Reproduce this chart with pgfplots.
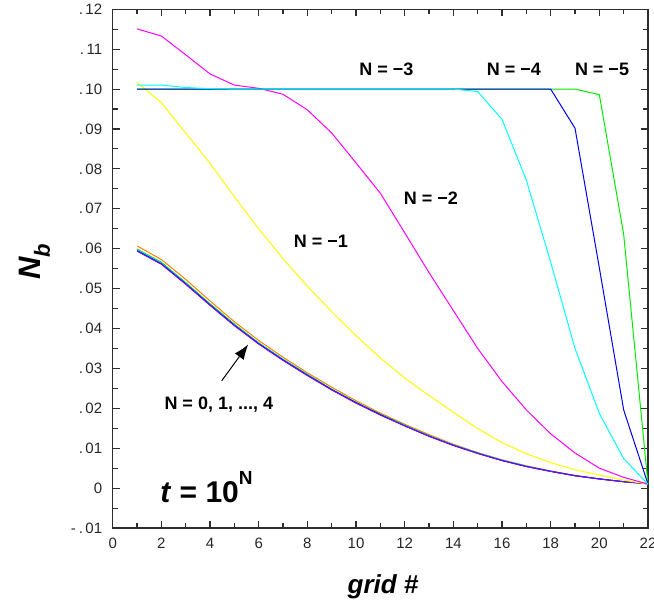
\documentclass[border=0pt]{standalone}
\usepackage{pgfplots}
\pgfplotsset{compat=1.18}
\usepackage{pgfplotstable}
\usepackage{fontspec}
\setmainfont{Liberation Sans}
\usetikzlibrary{arrows.meta}

\definecolor{frame}{RGB}{45,45,45}
\definecolor{cOrange}{RGB}{255,128,0}
\definecolor{cGreen}{RGB}{0,220,0}
\definecolor{cCyan}{RGB}{0,230,230}
\definecolor{cBlue}{RGB}{0,0,235}
\definecolor{cPurple}{RGB}{130,0,255}
\definecolor{cYellow}{RGB}{255,255,0}
\definecolor{cMagenta}{RGB}{255,0,255}
\definecolor{cCyanHi}{RGB}{0,255,255}
\definecolor{cBlueHi}{RGB}{0,0,230}
\definecolor{cGreenHi}{RGB}{0,235,0}

% N = 0 ... 4 (nearly identical profiles)
\pgfplotstableread{
x  orng   grn    cyn    blu    pur
1  0.0607 0.0599 0.0597 0.0595 0.0594
2  0.0573 0.0566 0.0564 0.0562 0.0561
3  0.0523 0.0515 0.0513 0.0512 0.0511
4  0.0469 0.0462 0.0460 0.0459 0.0458
5  0.0417 0.0411 0.0409 0.0408 0.0407
6  0.0370 0.0364 0.0363 0.0362 0.0361
7  0.0328 0.0323 0.0322 0.0321 0.0320
8  0.0289 0.0285 0.0284 0.0283 0.0282
9  0.0253 0.0248 0.0247 0.0247 0.0246
10 0.0219 0.0215 0.0214 0.0214 0.0213
11 0.0188 0.0185 0.0184 0.0184 0.0183
12 0.0160 0.0158 0.0157 0.0156 0.0156
13 0.0134 0.0131 0.0131 0.0130 0.0130
14 0.0110 0.0108 0.0108 0.0107 0.0107
15 0.0089 0.0088 0.0088 0.0087 0.0087
16 0.0071 0.0070 0.0070 0.0069 0.0069
17 0.0056 0.0055 0.0055 0.0054 0.0054
18 0.0043 0.0042 0.0042 0.0042 0.0042
19 0.0032 0.0031 0.0031 0.0031 0.0031
20 0.0023 0.0023 0.0023 0.0023 0.0023
21 0.0016 0.0016 0.0016 0.0016 0.0016
22 0.0011 0.0011 0.0011 0.0011 0.0011
}\lowgroup

% N = -1 ... -5
\pgfplotstableread{
x  m1     m2     m3     m4     m5
1  0.1017 0.1151 0.1010 0.1000 0.1000
2  0.0966 0.1133 0.1010 0.1000 0.1000
3  0.0890 0.1086 0.1004 0.1000 0.1000
4  0.0814 0.1038 0.1001 0.1000 0.1000
5  0.0730 0.1010 0.1000 0.1000 0.1000
6  0.0650 0.1002 0.1000 0.1000 0.1000
7  0.0575 0.0987 0.1000 0.1000 0.1000
8  0.0506 0.0948 0.1000 0.1000 0.1000
9  0.0442 0.0890 0.1000 0.1000 0.1000
10 0.0382 0.0815 0.1000 0.1000 0.1000
11 0.0326 0.0739 0.1000 0.1000 0.1000
12 0.0276 0.0640 0.1000 0.1000 0.1000
13 0.0232 0.0540 0.1000 0.1000 0.1000
14 0.0190 0.0445 0.1000 0.1000 0.1000
15 0.0149 0.0350 0.0994 0.1000 0.1000
16 0.0114 0.0267 0.0924 0.1000 0.1000
17 0.0086 0.0196 0.0772 0.1000 0.1000
18 0.0064 0.0136 0.0566 0.1000 0.1000
19 0.0046 0.0088 0.0350 0.0902 0.1000
20 0.0033 0.0050 0.0187 0.0552 0.0986
21 0.0020 0.0027 0.0074 0.0196 0.0636
22 0.0010 0.0010 0.0010 0.0010 0.0010
}\highgroup

\newcommand\lbl{\fontsize{18bp}{21bp}\selectfont\bfseries}
\newcommand\dt{.\hspace{2.5bp}}

\begin{document}
\begin{tikzpicture}
\begin{axis}[
  scale only axis, width=535.3bp, height=518.7bp,
  xmin=0, xmax=22, ymin=-0.01, ymax=0.12,
  xtick={0,2,...,22}, minor x tick num=1,
  ytick={-0.01,0,0.01,0.02,0.03,0.04,0.05,0.06,0.07,0.08,0.09,0.10,0.11,0.12},
  yticklabels={-\hspace{3bp}\dt01,0,\dt01,\dt02,\dt03,\dt04,\dt05,\dt06,\dt07,\dt08,\dt09,\dt10,\dt11,\dt12},
  minor y tick num=1,
  scaled y ticks=false,
  tick align=inside,
  major tick length=7bp, minor tick length=5bp,
  axis line style={frame, line width=1.4bp},
  every tick/.style={frame, line width=1.1bp},
  tick label style={font=\fontsize{15bp}{18bp}\selectfont, color=black!85},
  /pgf/number format/assume math mode=true,
  xticklabel style={yshift=-7bp},
  yticklabel style={xshift=-7bp},
  clip=false,
  every axis plot/.append style={line width=1bp, no markers},
]
\addplot[cOrange]  table[x=x, y=orng] {\lowgroup};
\addplot[cGreen]   table[x=x, y=grn]  {\lowgroup};
\addplot[cCyan]    table[x=x, y=cyn]  {\lowgroup};
\addplot[cBlue]    table[x=x, y=blu]  {\lowgroup};
\addplot[cPurple]  table[x=x, y=pur]  {\lowgroup};

\addplot[cYellow]  table[x=x, y=m1] {\highgroup};
\addplot[cMagenta] table[x=x, y=m2] {\highgroup};
\addplot[cGreenHi] table[x=x, y=m5] {\highgroup};
\addplot[cBlueHi]  table[x=x, y=m4] {\highgroup};
\addplot[cCyanHi]  table[x=x, y=m3] {\highgroup};

\node[anchor=base] at (axis cs:11.25,0.1033) {\lbl N = −3};
\node[anchor=base] at (axis cs:16.49,0.1033) {\lbl N = −4};
\node[anchor=base] at (axis cs:20.11,0.1033) {\lbl N = −5};
\node[anchor=base] at (axis cs:13.08,0.0710) {\lbl N = −2};
\node[anchor=base] at (axis cs:8.56,0.0602)  {\lbl N = −1};
\node[anchor=base] at (axis cs:4.36,0.0197)  {\lbl N = 0, 1, ..., 4};
\draw[line width=1bp, -{Latex[length=15bp,width=11bp]}]
  (axis cs:4.48,0.0269) -- (axis cs:5.57,0.0360);

\node[anchor=base west, inner sep=0pt] at (axis cs:1.95,-0.0035)
  {\fontsize{30bp}{36bp}\selectfont\bfseries\textit{t} = 10\raisebox{18bp}{\fontsize{19bp}{19bp}\selectfont N}};

\node[anchor=base] at (axis cs:11.11,-0.0263)
  {\fontsize{26bp}{30bp}\selectfont\bfseries\itshape grid \#};
\node[anchor=base, rotate=90] at (axis cs:-2.95,0.0567)
  {\fontsize{31bp}{36bp}\selectfont\bfseries\itshape N\raisebox{-9bp}{\fontsize{22bp}{22bp}\selectfont b}};
\end{axis}
\pgfresetboundingbox
\path[use as bounding box] (-112.7bp,-76bp) rectangle (541.3bp,528bp);
\end{tikzpicture}
\end{document}
